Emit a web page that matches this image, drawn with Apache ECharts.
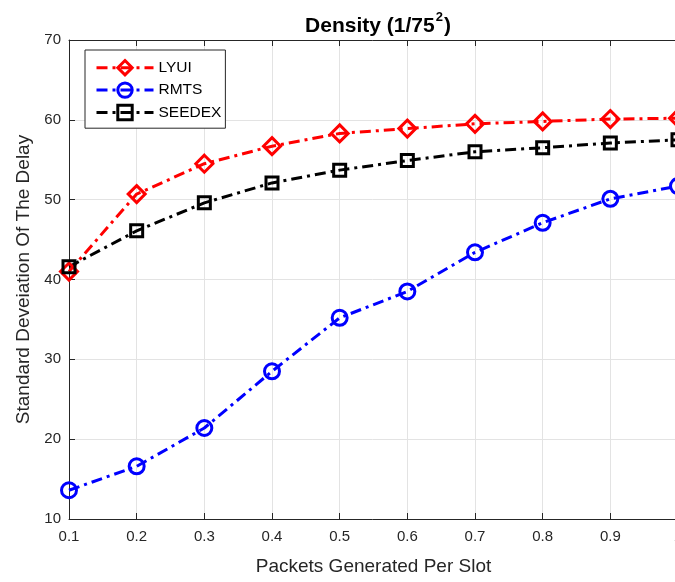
<!DOCTYPE html>
<html>
<head>
<meta charset="utf-8">
<script src="https://cdn.jsdelivr.net/npm/echarts@6/dist/echarts.min.js"></script>
<style>
  html, body { margin: 0; padding: 0; background: #fff; }
  #chart { width: 675px; height: 582px; }
</style>
</head>
<body>
<div id="chart"></div>
<script>
const xValues = [0.1, 0.2, 0.3, 0.4, 0.5, 0.6, 0.7, 0.8, 0.9, 1.0];
const lyui = [41.0, 50.7, 54.5, 56.7, 58.3, 58.9, 59.5, 59.8, 60.1, 60.2];
const rmts = [13.6, 16.6, 21.4, 28.5, 35.2, 38.5, 43.4, 47.1, 50.1, 51.7];
const seedex = [41.6, 46.1, 49.6, 52.1, 53.7, 54.9, 56.0, 56.5, 57.1, 57.5];

const font = "'Liberation Sans', Arial, sans-serif";
const axisColor = "#262626";

function pairs(ys) {
  return xValues.map((x, i) => [x, ys[i]]);
}

function makeSeries(name, data, color, symbol, size) {
  return {
    name: name,
    type: "line",
    data: pairs(data),
    symbol: symbol,
    symbolSize: size,
    lineStyle: { color: color, width: 3, type: [11, 5, 3, 5] },
    itemStyle: { color: "rgba(255,255,255,0)", borderColor: color, borderWidth: 3 },
    emphasis: { disabled: true },
    z: 3
  };
}

const chart = echarts.init(document.getElementById("chart"));
const option = {
  animation: false,
  backgroundColor: "#fff",
  title: {
    text: "{a|Density (1/75}{s|2}{a|)}",
    left: 373,
    textAlign: "center",
    top: 6,
    textStyle: {
      rich: {
        a: { fontFamily: font, fontSize: 21, fontWeight: "bold", color: "#000", verticalAlign: "bottom", lineHeight: 26 },
        s: { fontFamily: font, fontSize: 13, fontWeight: "bold", color: "#000", verticalAlign: "top", lineHeight: 26, padding: [0, 1, 12, 1] }
      }
    }
  },
  legend: {
    orient: "vertical",
    left: 85,
    top: 50,
    padding: [9, 4, 7, 10],
    itemGap: 5,
    itemWidth: 57,
    itemHeight: 18,
    itemTextGap: 7,
    backgroundColor: "#fff",
    borderColor: axisColor,
    borderWidth: 1,
    lineStyle: { width: 3 },
    itemStyle: { borderWidth: 3 },
    textStyle: { fontFamily: font, fontSize: 15.5, color: "#000" },
    data: ["LYUI", "RMTS", "SEEDEX"]
  },
  grid: { left: 69, top: 40, width: 609, height: 479, show: false, outerBoundsMode: "none", containLabel: false },
  xAxis: [
    {
      type: "value",
      min: 0.1,
      max: 1,
      interval: 0.1,
      name: "Packets Generated Per Slot",
      nameLocation: "middle",
      nameGap: 38,
      nameTextStyle: { fontFamily: font, fontSize: 19, color: axisColor },
      axisLine: { lineStyle: { color: axisColor, width: 1 } },
      axisTick: { inside: true, length: 6, lineStyle: { color: axisColor } },
      axisLabel: {
        fontFamily: font, fontSize: 15, color: axisColor, margin: 10,
        showMaxLabel: true, hideOverlap: false,
        formatter: v => (Math.round(v * 10) / 10).toString()
      },
      splitLine: { show: true, lineStyle: { color: "#e3e3e3", width: 1 } }
    },
    {
      type: "value",
      position: "top",
      min: 0.1,
      max: 1,
      interval: 0.1,
      axisLine: { show: true, onZero: false, lineStyle: { color: axisColor, width: 1 } },
      axisTick: { show: true, inside: true, length: 6, lineStyle: { color: axisColor } },
      axisLabel: { show: false },
      splitLine: { show: false }
    }
  ],
  yAxis: [
    {
      type: "value",
      min: 10,
      max: 70,
      interval: 10,
      name: "Standard Deveiation Of The Delay",
      nameLocation: "middle",
      nameGap: 31,
      nameTextStyle: { fontFamily: font, fontSize: 19, color: axisColor },
      axisLine: { show: true, lineStyle: { color: axisColor, width: 1 } },
      axisTick: { show: true, inside: true, length: 6, lineStyle: { color: axisColor } },
      axisLabel: { fontFamily: font, fontSize: 15, color: axisColor, margin: 8 },
      splitLine: { show: true, lineStyle: { color: "#e3e3e3", width: 1 } }
    }
  ],
  series: [
    makeSeries("LYUI", lyui, "#ff0000", "diamond", 17),
    makeSeries("RMTS", rmts, "#0000ff", "circle", 15),
    makeSeries("SEEDEX", seedex, "#000000", "rect", 12)
  ]
};
chart.setOption(option);
window.addEventListener("resize", () => {
  chart && chart.resize();
});
</script>
</body>
</html>
